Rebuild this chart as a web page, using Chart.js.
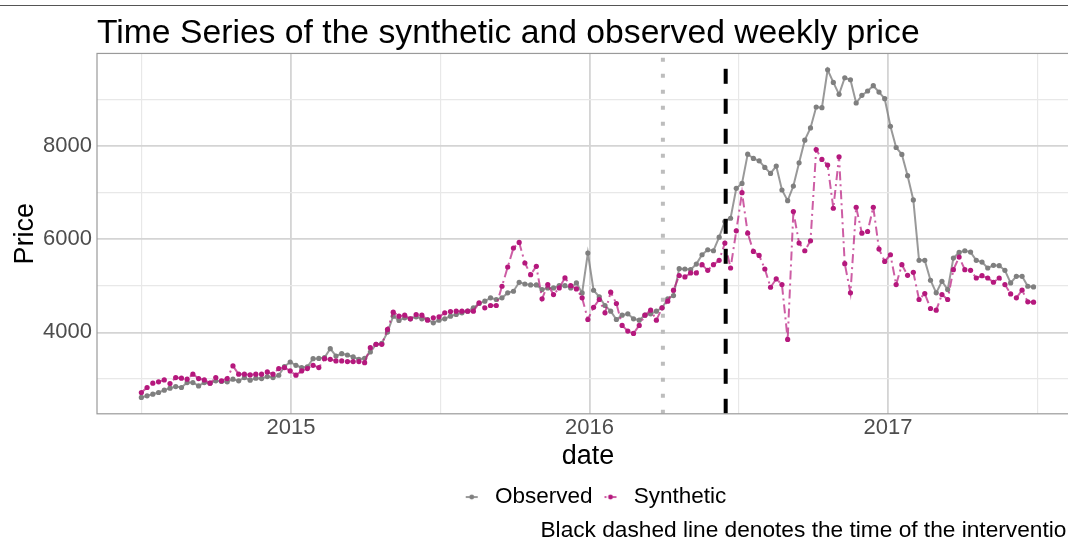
<!DOCTYPE html>
<html>
<head>
<meta charset="utf-8">
<title>Synthetic vs observed weekly price</title>
<script src="https://cdn.jsdelivr.net/npm/chart.js@4.4.0/dist/chart.umd.min.js"></script>
<style>
  html, body { margin: 0; padding: 0; background: #fff; }
  body { width: 1068px; height: 542px; overflow: hidden; position: relative; }
  #rule { position: absolute; left: 0; top: 5px; width: 1068px; border-top: 1.5px solid #555; }
  #wrap { position: absolute; left: 0; top: 0; width: 1085px; height: 542px; }
</style>
</head>
<body>
<div id="rule"></div>
<div id="wrap"><canvas id="priceChart" width="1085" height="542"></canvas></div>
<script>
// weekly series, first week 2014-07-02
const firstWeek = '2014-07-02';

const observed = [
    2601, 2637, 2672, 2708, 2758, 2800, 2836, 2815, 2922, 2922, 2850, 2922, 2908, 2958, 2944, 2937,
    2994, 2958, 3029, 2972, 3015, 3008, 3051, 3029, 3079, 3265,
    3364, 3293, 3243, 3260, 3436, 3440, 3460, 3650, 3493, 3543, 3514, 3472, 3422, 3443, 3579, 3743,
    3764, 4007, 4350, 4257,
    4314, 4293, 4336, 4293, 4278, 4207, 4264, 4293, 4350, 4385, 4421, 4457, 4528, 4621, 4671, 4743,
    4707, 4743, 4850, 4885,
    5077, 5041, 5020, 5020, 4921, 4957, 4957, 5005, 5005, 4957, 5063, 4849, 5705, 4906, 4764, 4578,
    4457, 4278, 4371, 4400, 4293, 4264, 4371, 4400, 4457, 4528, 4721, 4792, 5370, 5363, 5350, 5470,
    5670, 5777, 5756, 6048, 6384, 6455, 7097, 7204, 7832, 7740, 7690, 7547, 7419, 7576, 7062, 6833,
    7147, 7647, 8133, 8397, 8846, 8832, 9646, 9375, 9118, 9475, 9432, 8932, 9097, 9190, 9304, 9168,
    9025, 8433, 7976, 7826, 7369, 6848, 5549, 5549, 5121, 4850, 5099, 4921, 5599, 5720, 5756, 5727,
    5549, 5513, 5385, 5442, 5435, 5335, 5064, 5206, 5206, 4992, 4978
];

const synthetic = [
    2708, 2815, 2908, 2937, 2979, 2901, 3029, 3015, 2994, 3101, 3008, 2979, 2908, 3029, 2958, 3008,
    3279, 3101, 3101, 3086, 3101, 3101, 3151, 3101, 3222, 3243, 3172, 3080, 3172, 3222, 3293, 3243,
    3436, 3422, 3386, 3386, 3372, 3372, 3372, 3350, 3672, 3743, 3743, 4064, 4436, 4350, 4371,
    4293, 4385, 4371, 4264, 4314, 4336, 4421, 4450, 4457, 4457, 4457, 4457, 4636, 4528, 4578, 4578,
    4992, 5406, 5813, 5934, 5492, 5242, 5420, 4721, 5028, 4814, 4957, 5171, 5005, 4935, 4743, 4278,
    4540, 4707, 4421, 4864, 4621, 4150, 4029, 3979, 4150, 4371, 4478, 4264, 4528, 4671, 4907, 5221,
    5192, 5278, 5278,
    5456, 5335, 5456, 5549, 5920, 5385, 6184, 7004, 6134, 5742, 5656, 5363, 4971, 5149, 5028, 3850,
    6598, 5920, 5756, 5970, 7933, 7719, 7597, 6669, 7776, 5478, 4850, 6691, 6134, 6170, 6691, 5792,
    5527, 5670, 5028, 5456, 5227, 5292, 4707, 4835, 4514, 4478, 4814, 4707, 5349, 5620, 5349, 5335,
    5170, 5220, 5170, 5078, 5170, 5028, 4828, 4743, 4907, 4657, 4650
];

const yearTicks = [2015, 2016, 2017];
const priceTicks = [4000, 6000, 8000];
const priceGrid = [3000, 4000, 5000, 6000, 7000, 8000, 9000];
const interventionDate = '2016-06-16';
const placeboDate = '2016-03-31';

const xMin = 2014.35, xMax = 2017.64;
const yMin = 2250, yMax = 9998;

function toYear(iso) {
    let d = new Date(iso + 'T00:00:00Z');
    let y = d.getUTCFullYear();
    let start = Date.UTC(y, 0, 1), end = Date.UTC(y + 1, 0, 1);
    return y + (d.getTime() - start) / (end - start);
}

let weekDates = [];
for (let i = 0; i < observed.length; i++) {
    let d = new Date(firstWeek + 'T00:00:00Z');
    d.setUTCDate(d.getUTCDate() + 7 * i);
    weekDates.push(d.toISOString().slice(0, 10));
}

function series(values) {
    return values.map((v, i) => ({ x: toYear(weekDates[i]), y: v }));
}

function vline(iso) {
    let x = toYear(iso);
    return [{ x: x, y: yMin }, { x: x, y: yMax }];
}

function isWhole(v) {
    return Math.abs(v - Math.round(v)) < 1e-6;
}

function legendGlyph(lineColor, dotColor, dash) {
    let c = document.createElement('canvas');
    c.width = 14;
    c.height = 8;
    let g = c.getContext('2d');
    g.strokeStyle = lineColor;
    g.lineWidth = 2;
    g.setLineDash(dash);
    g.beginPath();
    g.moveTo(1, 4);
    g.lineTo(13, 4);
    g.stroke();
    g.fillStyle = dotColor;
    g.beginPath();
    g.arc(7, 4, 2.4, 0, Math.PI * 2);
    g.fill();
    return c;
}

const obsLine = 'rgba(128,128,128,0.8)';
const obsPoint = '#7f7f7f';
const synLine = 'rgba(184,24,126,0.7)';
const synPoint = '#b5187d';

// panel border, drawn over the data like ggplot's theme_light
const panelBorder = {
    id: 'panelBorder',
    afterDatasetsDraw(chart) {
        let a = chart.chartArea;
        let ctx = chart.ctx;
        ctx.save();
        ctx.strokeStyle = '#9a9a9a';
        ctx.lineWidth = 1.2;
        ctx.strokeRect(a.left, a.top, a.right - a.left, a.bottom - a.top);
        ctx.restore();
    }
};

// ggplot centres the legend a little right of the panel centre
const nudgeLegend = {
    id: 'nudgeLegend',
    afterLayout(chart) {
        chart.legend.left += 5;
        chart.legend.right += 5;
    }
};

Chart.defaults.font.family = "'Liberation Sans', Arial, sans-serif";
Chart.defaults.color = '#000';

let ctx = document.getElementById('priceChart').getContext('2d');
let chartInstance = new Chart(ctx, {
    type: 'line',
    data: {
        datasets: [
            {
                label: 'placebo',
                data: vline(placeboDate),
                borderColor: '#bdbdbd',
                borderWidth: 4,
                borderDash: [4, 12],
                pointRadius: 0,
                order: 4
            },
            {
                label: 'Observed',
                data: series(observed),
                borderColor: obsLine,
                borderWidth: 2,
                pointRadius: 2.6,
                pointBorderWidth: 0,
                pointBackgroundColor: obsPoint,
                order: 3
            },
            {
                label: 'Synthetic',
                data: series(synthetic),
                borderColor: synLine,
                borderWidth: 2,
                borderDash: [9, 4, 2, 4],
                pointRadius: 2.6,
                pointBorderWidth: 0,
                pointBackgroundColor: synPoint,
                order: 2
            },
            {
                label: 'intervention',
                data: vline(interventionDate),
                borderColor: '#000',
                borderWidth: 4,
                borderDash: [15, 15],
                pointRadius: 0,
                order: 1
            }
        ]
    },
    options: {
        responsive: false,
        animation: false,
        layout: { padding: { left: 0, right: 6, top: 0, bottom: 0 } },
        plugins: {
            tooltip: { enabled: false },
            title: {
                display: true,
                text: 'Time Series of the synthetic and observed weekly price',
                align: 'start',
                fullSize: false,
                font: { size: 33.7, weight: 'normal', lineHeight: 1.2 },
                padding: { top: 13, bottom: 0 }
            },
            legend: {
                position: 'bottom',
                fullSize: false,
                labels: {
                    usePointStyle: true,
                    pointStyleWidth: 24,
                    padding: 6,
                    font: { size: 22.5, lineHeight: 1 },
                    generateLabels: function() {
                        return [
                            { text: 'Observed', pointStyle: legendGlyph(obsLine, obsPoint, []),
                              fillStyle: obsPoint, strokeStyle: obsLine, lineWidth: 0, hidden: false, datasetIndex: 1 },
                            { text: 'Synthetic', pointStyle: legendGlyph(synLine, synPoint, [2, 2, 8, 2]),
                              fillStyle: synPoint, strokeStyle: synLine, lineWidth: 0, hidden: false, datasetIndex: 2 }
                        ];
                    }
                }
            },
            subtitle: {
                display: true,
                position: 'bottom',
                align: 'end',
                text: 'Black dashed line denotes the time of the intervention',
                font: { size: 22.7, weight: 'normal', lineHeight: 1 },
                padding: { top: 1, bottom: 0 }
            }
        },
        scales: {
            x: {
                type: 'linear',
                min: xMin,
                max: xMax,
                border: { display: false },
                grid: {
                    drawTicks: false,
                    color: c => isWhole(c.tick.value) ? '#d4d4d4' : '#e8e8e8',
                    lineWidth: c => isWhole(c.tick.value) ? 1.8 : 1.2
                },
                ticks: {
                    stepSize: 0.5,
                    includeBounds: false,
                    autoSkip: false,
                    maxRotation: 0,
                    padding: 3,
                    color: '#4d4d4d',
                    font: { size: 22, lineHeight: 1 },
                    callback: v => yearTicks.includes(Math.round(v)) && isWhole(v) ? String(Math.round(v)) : ''
                },
                title: {
                    display: true,
                    text: 'date',
                    font: { size: 27, lineHeight: 1 },
                    padding: { top: 1, bottom: 10 }
                }
            },
            y: {
                min: yMin,
                max: yMax,
                border: { display: false },
                afterFit: scale => { scale.width = 97; },
                afterBuildTicks: scale => { scale.ticks = priceGrid.map(v => ({ value: v })); },
                grid: {
                    drawTicks: false,
                    color: c => priceTicks.includes(c.tick.value) ? '#d4d4d4' : '#e8e8e8',
                    lineWidth: c => priceTicks.includes(c.tick.value) ? 1.8 : 1.2
                },
                ticks: {
                    padding: 5,
                    color: '#4d4d4d',
                    font: { size: 22, lineHeight: 1 },
                    callback: v => priceTicks.includes(v) ? String(v) : ''
                },
                title: {
                    display: true,
                    text: 'Price',
                    font: { size: 27, lineHeight: 1 },
                    padding: { top: 12, bottom: 0 }
                }
            }
        }
    },
    plugins: [panelBorder, nudgeLegend]
});
</script>
</body>
</html>
